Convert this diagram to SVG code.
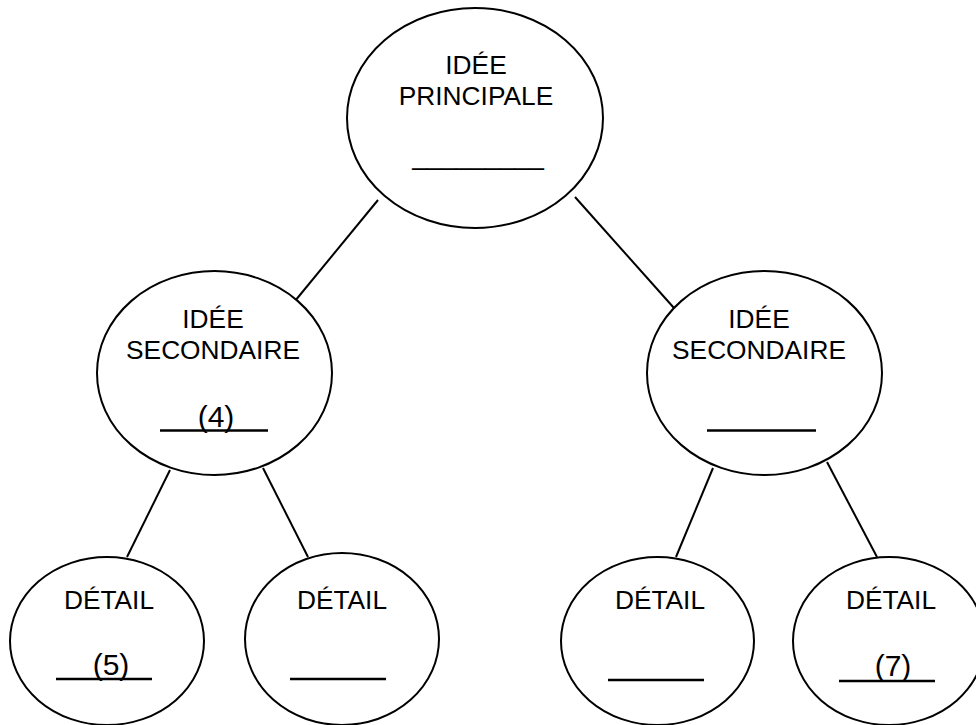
<svg xmlns="http://www.w3.org/2000/svg" width="976" height="725" viewBox="0 0 976 725">
<style>
.n{fill:#fff;stroke:#000;stroke-width:2}
.t{font-family:"Liberation Sans",Arial,sans-serif;font-size:26.3px;fill:#000;text-anchor:middle}
.num{font-size:30px}
.b{stroke:#000;stroke-width:2.6}
.c{stroke:#000;stroke-width:2;fill:none}
</style>
<rect width="976" height="725" fill="#fff"/>
<g id="connectors">
<line class="c" x1="378" y1="200" x2="295" y2="301"/>
<line class="c" x1="575" y1="197" x2="674" y2="308"/>
<line class="c" x1="170" y1="470" x2="127" y2="557"/>
<line class="c" x1="263" y1="468" x2="308" y2="557"/>
<line class="c" x1="713" y1="468" x2="676" y2="557"/>
<line class="c" x1="827" y1="462" x2="877" y2="557"/>
</g>
<g id="main">
<ellipse class="n" cx="475" cy="118" rx="128" ry="110"/>
<text class="t" x="476" y="74">IDÉE</text>
<text class="t" x="476" y="105">PRINCIPALE</text>
<text class="t" x="478" y="165">_________</text>
</g>
<g id="sec-left">
<ellipse class="n" cx="214.5" cy="373" rx="117.5" ry="102"/>
<text class="t" x="213" y="328">IDÉE</text>
<text class="t" x="213" y="359">SECONDAIRE</text>
<text class="t num" x="216" y="427">(4)</text>
<line class="b" x1="160" y1="430.5" x2="268" y2="430.5"/>
</g>
<g id="sec-right">
<ellipse class="n" cx="764.5" cy="373" rx="117.5" ry="102"/>
<text class="t" x="759" y="328">IDÉE</text>
<text class="t" x="759" y="359">SECONDAIRE</text>
<line class="b" x1="707" y1="430.5" x2="816" y2="430.5"/>
</g>
<g id="detail-1">
<ellipse class="n" cx="107" cy="641" rx="97" ry="84"/>
<text class="t" x="109" y="609">DÉTAIL</text>
<text class="t num" x="111" y="675">(5)</text>
<line class="b" x1="56" y1="679" x2="152" y2="679"/>
</g>
<g id="detail-2">
<ellipse class="n" cx="342" cy="639" rx="97" ry="86"/>
<text class="t" x="342" y="609">DÉTAIL</text>
<line class="b" x1="290" y1="679" x2="386" y2="679"/>
</g>
<g id="detail-3">
<ellipse class="n" cx="657.5" cy="641" rx="96.5" ry="84"/>
<text class="t" x="660" y="609">DÉTAIL</text>
<line class="b" x1="608" y1="680" x2="704" y2="680"/>
</g>
<g id="detail-4">
<ellipse class="n" cx="889" cy="641" rx="96" ry="84"/>
<text class="t" x="891" y="609">DÉTAIL</text>
<text class="t num" x="893" y="676">(7)</text>
<line class="b" x1="839" y1="681" x2="935" y2="681"/>
</g>
</svg>
